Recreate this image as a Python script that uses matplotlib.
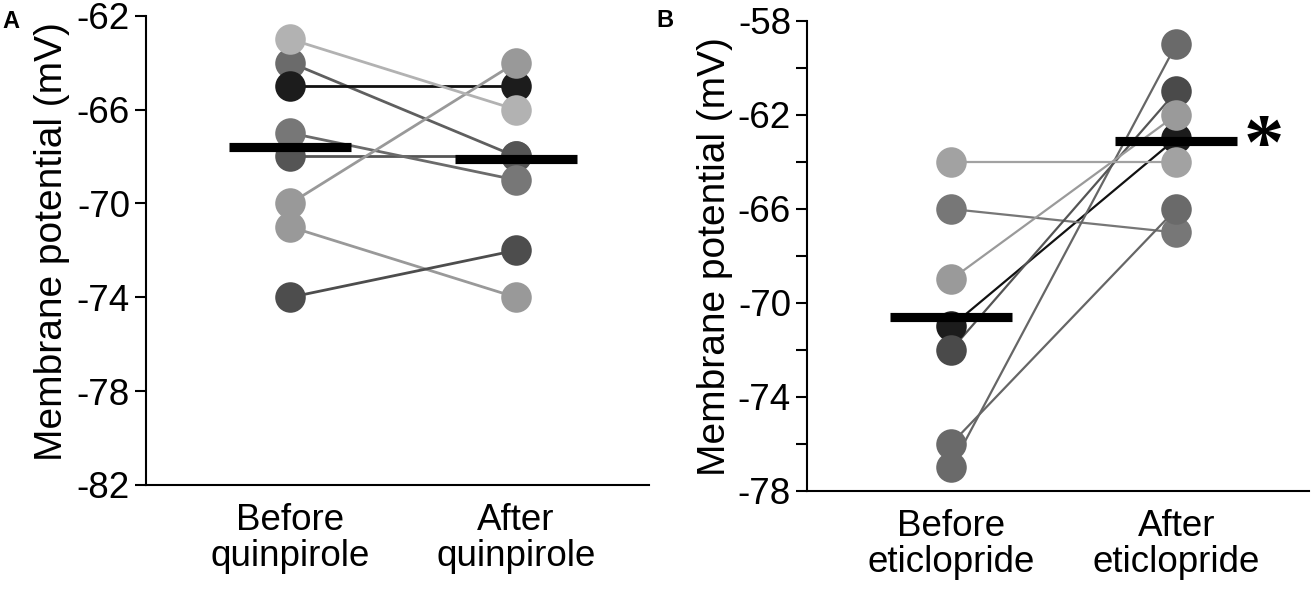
import matplotlib
matplotlib.use("Agg")
import matplotlib.pyplot as plt
from matplotlib.ticker import MultipleLocator

plt.rcParams['font.family'] = ['Liberation Sans', 'DejaVu Sans']

# ---------------- data ----------------
categories_a = ["Before\nquinpirole", "After\nquinpirole"]
before_a = [-64, -65, -68, -67, -71, -74, -70, -63]
after_a = [-68, -65, -68, -69, -74, -72, -64, -66]
marker_colors_a = ["#6b6b6b", "#1c1c1c", "#555555", "#777777", "#999999", "#4d4d4d", "#999999", "#b2b2b2"]
line_colors_a = ["#5f5f5f", "#111111", "#555555", "#6b6b6b", "#999999", "#4d4d4d", "#999999", "#b2b2b2"]
mean_a = [-67.6, -68.1]

categories_b = ["Before\neticlopride", "After\neticlopride"]
before_b = [-71, -66, -76, -77, -72, -69, -64]
after_b = [-63, -67, -66, -59, -61, -62, -64]
marker_colors_b = ["#1c1c1c", "#777777", "#6a6a6a", "#6a6a6a", "#4a4a4a", "#9a9a9a", "#a2a2a2"]
line_colors_b = ["#111111", "#777777", "#666666", "#666666", "#555555", "#9a9a9a", "#a2a2a2"]
mean_b = [-70.6, -63.1]

yticks_a = [-62, -66, -70, -74, -78, -82]
yticks_b = [-58, -62, -66, -70, -74, -78]

# ---------------- figure ----------------
W, H = 1311, 591
fig = plt.figure(figsize=(W / 100, H / 100), dpi=100)


def px_axes(left, right, top, bottom):
    return fig.add_axes([left / W, 1 - bottom / H, (right - left) / W, (bottom - top) / H])


ax_a = px_axes(146, 649, 15.7, 485)
ax_b = px_axes(807, 1309, 21, 491)

TICK_FS = 26.5
LABEL_FS = 28


def draw_panel(ax, before, after, mcols, lcols, means, cats, yticks, lw, minor):
    for b, a, mc, lc in zip(before, after, mcols, lcols):
        ax.plot([0, 1], [b, a], color=lc, lw=lw, zorder=2, solid_capstyle='butt')
        ax.plot([0, 1], [b, a], linestyle='none', marker='o', markersize=22,
                markerfacecolor=mc, markeredgewidth=0, zorder=3)
    for i, m in enumerate(means):
        ax.hlines(m, i - 0.27, i + 0.27, color='black', lw=6.6, zorder=4)
    ax.set_xlim(-0.64, 1.59)
    ax.set_ylim(yticks[-1], yticks[0])
    ax.set_yticks(yticks)
    ax.set_yticklabels([str(t) for t in yticks])
    if minor:
        ax.yaxis.set_minor_locator(MultipleLocator(2))
    ax.set_xticks([0, 1])
    ax.set_xticklabels(cats, fontsize=TICK_FS, linespacing=1.05)
    for s in ['top', 'right']:
        ax.spines[s].set_visible(False)
    for s in ['left', 'bottom']:
        ax.spines[s].set_linewidth(1.5)
    ax.tick_params(axis='y', which='both', length=8, width=1.5, pad=3.5,
                   labelsize=TICK_FS, direction='out')
    ax.tick_params(axis='x', length=0, pad=13)


draw_panel(ax_a, before_a, after_a, marker_colors_a, line_colors_a, mean_a,
           categories_a, yticks_a, 2.0, False)
draw_panel(ax_b, before_b, after_b, marker_colors_b, line_colors_b, mean_b,
           categories_b, yticks_b, 1.6, True)

# asterisk for significance
ax_b.text(1.39, mean_b[1], "*", family='Liberation Serif', fontsize=58,
          fontweight='bold', ha='center', va='center_baseline', color='black')

# y labels
fig.text(52 / W, 1 - 242 / H, "Membrane potential (mV)", rotation=90,
         ha='center', va='center', fontsize=LABEL_FS)
fig.text(715 / W, 1 - 257 / H, "Membrane potential (mV)", rotation=90,
         ha='center', va='center', fontsize=LABEL_FS)

# panel letters
fig.text(2 / W, 1 - 28 / H, "A", fontsize=17, fontweight='bold', ha='left', va='baseline')
fig.text(656 / W, 1 - 27 / H, "B", fontsize=17, fontweight='bold', ha='left', va='baseline')

fig.savefig("out.png", dpi=100)
